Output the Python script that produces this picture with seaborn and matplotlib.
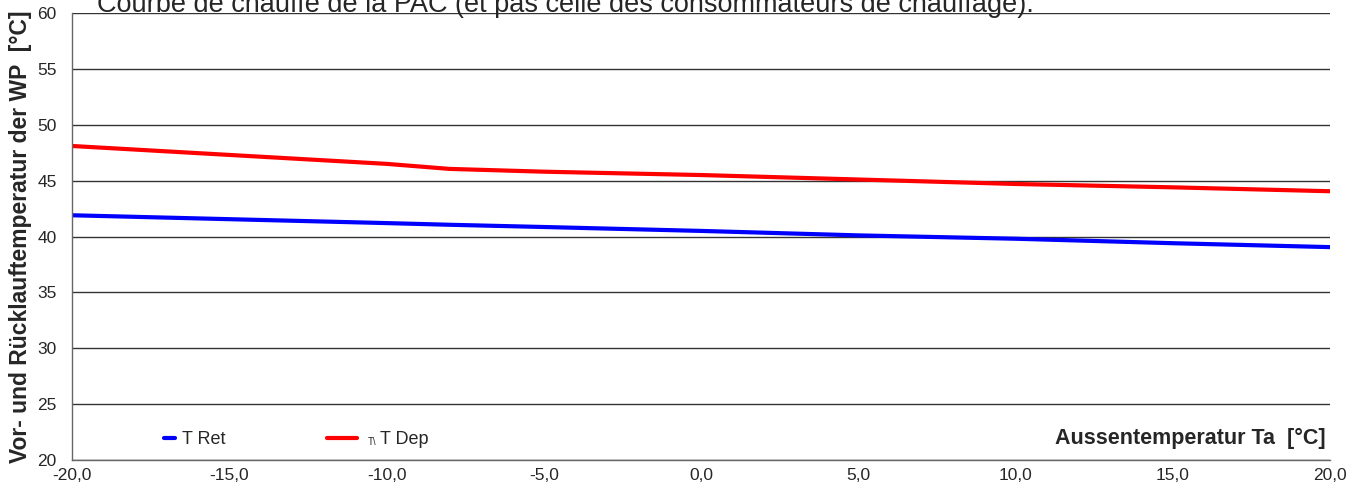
import numpy as np
import pandas as pd
import seaborn as sns
import matplotlib
matplotlib.use('Agg')
import matplotlib.pyplot as plt
from matplotlib.ticker import FuncFormatter, MultipleLocator
from matplotlib.lines import Line2D

# data
t_aussen = [-20, -15, -10, -8, -5, 0, 5, 10, 15, 20]
t_ret = [41.9, 41.55, 41.2, 41.05, 40.85, 40.5, 40.1, 39.8, 39.4, 39.05]
t_dep = [48.1, 47.3, 46.5, 46.05, 45.8, 45.5, 45.1, 44.7, 44.4, 44.05]
series_names = ['T Ret', 'T Dep']
series_colors = ['#0000ff', '#ff0000']

df = pd.DataFrame({
    'Ta': t_aussen * 2,
    'T': t_ret + t_dep,
    'serie': [series_names[0]] * len(t_aussen) + [series_names[1]] * len(t_aussen),
})

sns.set_style('white')
plt.rcParams['font.family'] = ['Liberation Sans', 'DejaVu Sans']

fig = plt.figure(figsize=(13.63, 4.90), dpi=100)
ax = fig.add_axes([72/1363, 30/490, 1258/1363, 447/490])

sns.lineplot(data=df, x='Ta', y='T', hue='serie', palette=series_colors,
             linewidth=3, ax=ax, legend=False)

ax.set_xlim(-20, 20)
ax.set_ylim(20, 60)
ax.xaxis.set_major_locator(MultipleLocator(5))
ax.yaxis.set_major_locator(MultipleLocator(5))
ax.xaxis.set_major_formatter(FuncFormatter(lambda v, p: f'{v:.1f}'.replace('.', ',')))
ax.yaxis.set_major_formatter(FuncFormatter(lambda v, p: f'{v:.0f}'))
ax.grid(axis='y', color='#333333', linewidth=1)
ax.set_axisbelow(True)
ax.tick_params(axis='both', direction='out', length=5, width=1, color='#555555',
               labelsize=12.5)
ax.tick_params(axis='x', pad=1)
ax.tick_params(axis='y', pad=6)
for s in ['top', 'right']:
    ax.spines[s].set_visible(False)
for s in ['left', 'bottom']:
    ax.spines[s].set_color('#666666')
    ax.spines[s].set_linewidth(1)

ax.set_xlabel('')
ax.set_ylabel('Vor- und Rücklauftemperatur der WP  [°C]', fontsize=16.5,
              fontweight='bold', labelpad=4)
ax.text(0.9963, 0.048, 'Aussentemperatur Ta  [°C]', transform=ax.transAxes,
        ha='right', va='center', fontsize=15.5, fontweight='bold')

# legend, drawn as two separate entries like the original
h_ret = Line2D([], [], color=series_colors[0], linewidth=3)
h_dep = Line2D([], [], color=series_colors[1], linewidth=3)
leg1 = ax.legend([h_ret], [series_names[0]], loc='center left',
                 bbox_to_anchor=(0.073, 0.045), frameon=False, fontsize=13,
                 handlelength=0.6, handletextpad=0.4, borderpad=0, borderaxespad=0)
ax.add_artist(leg1)
ax.legend([h_dep], [series_names[1]], loc='center left',
          bbox_to_anchor=(0.2025, 0.045), frameon=False, fontsize=13,
          handlelength=1.65, handletextpad=1.3, borderpad=0, borderaxespad=0)
ax.text(0.2355, 0.04, 'T\\', transform=ax.transAxes, fontsize=7,
        ha='left', va='center')

fig.text(97/1363, 1 - 12/490, 'Courbe de chauffe de la PAC (et pas celle des consommateurs de chauffage).',
         fontsize=19.5, ha='left', va='baseline')

fig.savefig('out.png', dpi=100)
